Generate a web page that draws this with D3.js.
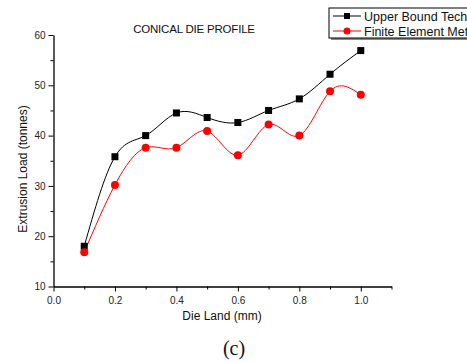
<!DOCTYPE html>
<html><head><meta charset="utf-8">
<script src="https://cdn.jsdelivr.net/npm/d3@7"></script>
<style>body{margin:0;background:#fff;}svg{display:block;}</style>
</head><body>
<script>
const dieLand = [0.1,0.2,0.3,0.4,0.5,0.6,0.7,0.8,0.9,1.0];
const upperBound = [18.0,35.8,40.0,44.5,43.6,42.6,45.0,47.3,52.2,56.9];
const finiteElement = [16.8,30.2,37.6,37.6,40.9,36.1,42.2,40.0,48.8,48.1];
const xTicks = [0.0,0.2,0.4,0.6,0.8,1.0];
const yTicks = [10,20,30,40,50,60];
const seriesNames = ["Upper Bound Technique","Finite Element Method"];
const seriesColors = ["#000000","#ff0000"];

const W=467,H=362;
const svg=d3.select("body").append("svg").attr("width",W).attr("height",H);
const x=d3.scaleLinear().domain([0,1.1]).range([53.5,391.5]);
const y=d3.scaleLinear().domain([10,60]).range([286.5,35]);
const font="'Liberation Sans', Arial, sans-serif";

// minor ticks
const gx=svg.append("g").attr("transform",`translate(0,${y(10)})`);
gx.call(d3.axisBottom(x).tickValues(d3.range(0.1,1.11,0.2).map(v=>+v.toFixed(1))).tickSize(3).tickFormat(""));
gx.call(g=>g.select(".domain").remove());
const gx2=svg.append("g").attr("transform",`translate(0,${y(10)})`)
 .call(d3.axisBottom(x).tickValues(xTicks).tickSize(5).tickSizeOuter(0).tickFormat(d3.format(".1f")));
const gy=svg.append("g").attr("transform",`translate(${x(0)},0)`);
gy.call(d3.axisLeft(y).tickValues([15,25,35,45,55]).tickSize(3).tickFormat(""));
gy.call(g=>g.select(".domain").remove());
const gy2=svg.append("g").attr("transform",`translate(${x(0)},0)`)
 .call(d3.axisLeft(y).tickValues(yTicks).tickSize(5).tickSizeOuter(0).tickFormat(d3.format("d")));
svg.selectAll(".domain").attr("stroke","#000").attr("stroke-width",1.3);
svg.selectAll(".tick line").attr("stroke","#000");
svg.selectAll(".tick text").attr("font-family",font).attr("font-size",10).attr("fill","#222");
gx2.selectAll(".tick text").attr("dy","0.9em");

const series=[upperBound,finiteElement];
const line=d3.line().x((d,i)=>x(dieLand[i])).y(d=>y(d)).curve(d3.curveNatural);
series.forEach((s,k)=>{
  svg.append("path").datum(s).attr("d",line).attr("fill","none").attr("stroke",seriesColors[k]).attr("stroke-width",1);
});
// markers
svg.selectAll(".sq").data(upperBound).enter().append("rect")
 .attr("x",(d,i)=>x(dieLand[i])-3.5).attr("y",d=>y(d)-3.5).attr("width",7).attr("height",7).attr("fill","#000");
svg.selectAll(".ci").data(finiteElement).enter().append("circle")
 .attr("cx",(d,i)=>x(dieLand[i])).attr("cy",d=>y(d)).attr("r",4).attr("fill","#ff0000");

// title
svg.append("text").attr("x",194).attr("y",33).attr("text-anchor","middle").attr("font-family",font).attr("font-size",11.5).attr("letter-spacing","-0.2").attr("fill","#111").text("CONICAL DIE PROFILE");
// axis labels
svg.append("text").attr("x",222).attr("y",320).attr("text-anchor","middle").attr("font-family",font).attr("font-size",12).attr("fill","#111").text("Die Land (mm)");
svg.append("text").attr("transform",`translate(27,169) rotate(-90)`).attr("text-anchor","middle").attr("font-family",font).attr("font-size",12).attr("fill","#111").text("Extrusion Load (tonnes)");
svg.append("text").attr("x",234).attr("y",355).attr("text-anchor","middle").attr("font-family","'Liberation Serif','Times New Roman',serif").attr("font-size",20).attr("fill","#111").text("(c)");

// legend
const lg=svg.append("g");
lg.append("rect").attr("x",331).attr("y",10).attr("width",200).attr("height",30).attr("fill","#888");
lg.append("rect").attr("x",329).attr("y",8).attr("width",200).attr("height",30).attr("fill","#fff").attr("stroke","#000").attr("stroke-width",1);
seriesNames.forEach((n,k)=>{
  const yy=16+k*15;
  lg.append("line").attr("x1",333).attr("x2",361).attr("y1",yy).attr("y2",yy).attr("stroke",seriesColors[k]).attr("stroke-width",1);
  if(k===0) lg.append("rect").attr("x",344).attr("y",yy-3).attr("width",6).attr("height",6).attr("fill","#000");
  else lg.append("circle").attr("cx",347).attr("cy",yy).attr("r",3.5).attr("fill","#ff0000");
  lg.append("text").attr("x",364).attr("y",yy+4.5).attr("font-family",font).attr("font-size",12.5).attr("fill","#111").text(n);
});
</script>
</body></html>
